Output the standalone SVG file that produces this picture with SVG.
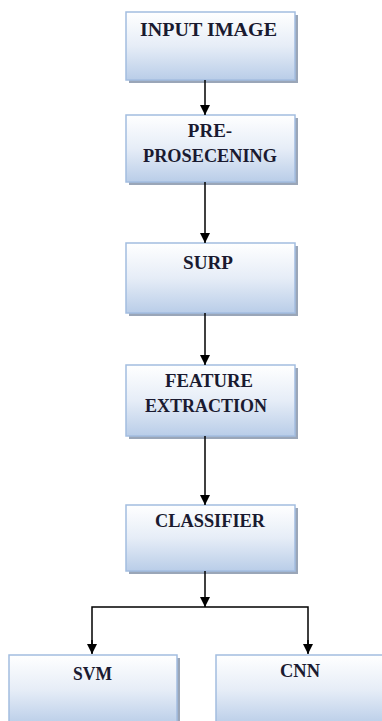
<svg xmlns="http://www.w3.org/2000/svg" width="382" height="721" viewBox="0 0 382 721">
<defs>
<linearGradient id="g" x1="0" y1="0" x2="0" y2="1">
<stop offset="0" stop-color="#ffffff"/>
<stop offset="0.5" stop-color="#e6edf7"/>
<stop offset="1" stop-color="#b9cde8"/>
</linearGradient>
<marker id="ah" viewBox="0 0 10 10" refX="10" refY="5" markerWidth="10" markerHeight="10" markerUnits="userSpaceOnUse" orient="auto">
<path d="M0,0 L10,5 L0,10 Z" fill="#000"/>
</marker>
<style>
.sh{fill:#9aa6b8}
.bx{fill:url(#g);stroke:#a3bde0;stroke-width:1.5}
.c{stroke:#000;stroke-width:1.5;fill:none}
</style>
</defs>
<g font-family="'Liberation Serif', 'Times New Roman', serif" font-weight="700" font-size="19" fill="#1a1a30" text-anchor="middle">
<g id="input">
<rect class="sh" x="129" y="15" width="169" height="68"/>
<rect class="bx" x="126" y="12" width="169" height="68"/>
<text x="208.5" y="36" textLength="137" lengthAdjust="spacingAndGlyphs">INPUT IMAGE</text>
</g>
<g id="pre">
<rect class="sh" x="129" y="118" width="169" height="67"/>
<rect class="bx" x="126" y="115" width="169" height="67"/>
<text x="210" y="137">PRE-</text>
<text x="210" y="162" textLength="134" lengthAdjust="spacingAndGlyphs">PROSECENING</text>
</g>
<g id="surp">
<rect class="sh" x="129" y="246" width="169" height="70"/>
<rect class="bx" x="126" y="243" width="169" height="70"/>
<text x="208" y="269" textLength="50" lengthAdjust="spacingAndGlyphs">SURP</text>
</g>
<g id="feature">
<rect class="sh" x="129" y="368" width="169" height="71"/>
<rect class="bx" x="126" y="365" width="169" height="71"/>
<text x="209" y="387" textLength="88" lengthAdjust="spacingAndGlyphs">FEATURE</text>
<text x="206" y="412" textLength="122" lengthAdjust="spacingAndGlyphs">EXTRACTION</text>
</g>
<g id="classifier">
<rect class="sh" x="129" y="508" width="169" height="66"/>
<rect class="bx" x="126" y="505" width="169" height="66"/>
<text x="210" y="527" textLength="110" lengthAdjust="spacingAndGlyphs">CLASSIFIER</text>
</g>
<g id="svm">
<rect class="sh" x="12" y="658" width="168" height="70"/>
<rect class="bx" x="9" y="655" width="168" height="70"/>
<text x="92.5" y="680" textLength="39" lengthAdjust="spacingAndGlyphs">SVM</text>
</g>
<g id="cnn">
<rect class="sh" x="219" y="658" width="170" height="70"/>
<rect class="bx" x="216" y="655" width="170" height="70"/>
<text x="300" y="677" textLength="40" lengthAdjust="spacingAndGlyphs">CNN</text>
</g>
</g>
<g id="connectors">
<line class="c" x1="205" y1="80" x2="205" y2="115" marker-end="url(#ah)"/>
<line class="c" x1="205" y1="182" x2="205" y2="243" marker-end="url(#ah)"/>
<line class="c" x1="205" y1="313" x2="205" y2="365" marker-end="url(#ah)"/>
<line class="c" x1="205" y1="436" x2="205" y2="505" marker-end="url(#ah)"/>
<line class="c" x1="205" y1="571" x2="205" y2="607" marker-end="url(#ah)"/>
<polyline class="c" points="92,653 92,607 308,607 308,653"/>
<line class="c" x1="92" y1="640" x2="92" y2="654" marker-end="url(#ah)"/>
<line class="c" x1="308" y1="640" x2="308" y2="654" marker-end="url(#ah)"/>
</g>
</svg>
